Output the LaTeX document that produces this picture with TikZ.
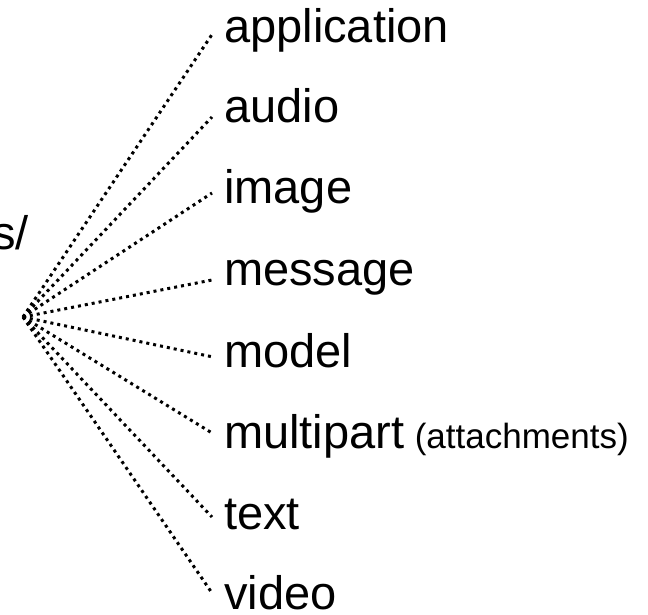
\documentclass[tikz,border=0pt]{standalone}
\usepackage{fontspec}
\setmainfont{Liberation Sans}
\begin{document}
\begin{tikzpicture}[x=1pt,y=-1pt,
  lbl/.style={anchor=base west,inner sep=0pt,font=\fontsize{47}{50}\selectfont},
  small/.style={anchor=base west,inner sep=0pt,font=\fontsize{35}{38}\selectfont},
  dots/.style={line width=3pt,dash pattern=on 3pt off 4pt,black}]
\clip (0,0) rectangle (648,615);
\coordinate (hub) at (23,317);
\node[lbl] (root) at (-8,249) {s/};
\node[lbl] (app) at (224,43) {application};
\node[lbl] (aud) at (224,123) {audio};
\node[lbl] (img) at (224,204) {image};
\node[lbl] (msg) at (224,285) {message};
\node[lbl] (mod) at (224,367) {model};
\node[lbl] (mul) at (224,448) {multipart};
\node[small] (att) at ([xshift=10pt]mul.base east) {(attachments)};
\node[lbl] (txt) at (224,529) {text};
\node[lbl] (vid) at (224,609) {video};
\draw[dots] (hub) -- ([shift={(-11pt,10pt)}]app.base west);
\draw[dots] (hub) -- ([shift={(-12pt,6pt)}]aud.base west);
\draw[dots] (hub) -- ([shift={(-12pt,11pt)}]img.base west);
\draw[dots] (hub) -- ([shift={(-12pt,5pt)}]msg.base west);
\draw[dots] (hub) -- ([shift={(-11pt,10pt)}]mod.base west);
\draw[dots] (hub) -- ([shift={(-12pt,15pt)}]mul.base west);
\draw[dots] (hub) -- ([shift={(-12pt,12pt)}]txt.base west);
\draw[dots] (hub) -- ([shift={(-12pt,16pt)}]vid.base west);
\end{tikzpicture}
\end{document}
